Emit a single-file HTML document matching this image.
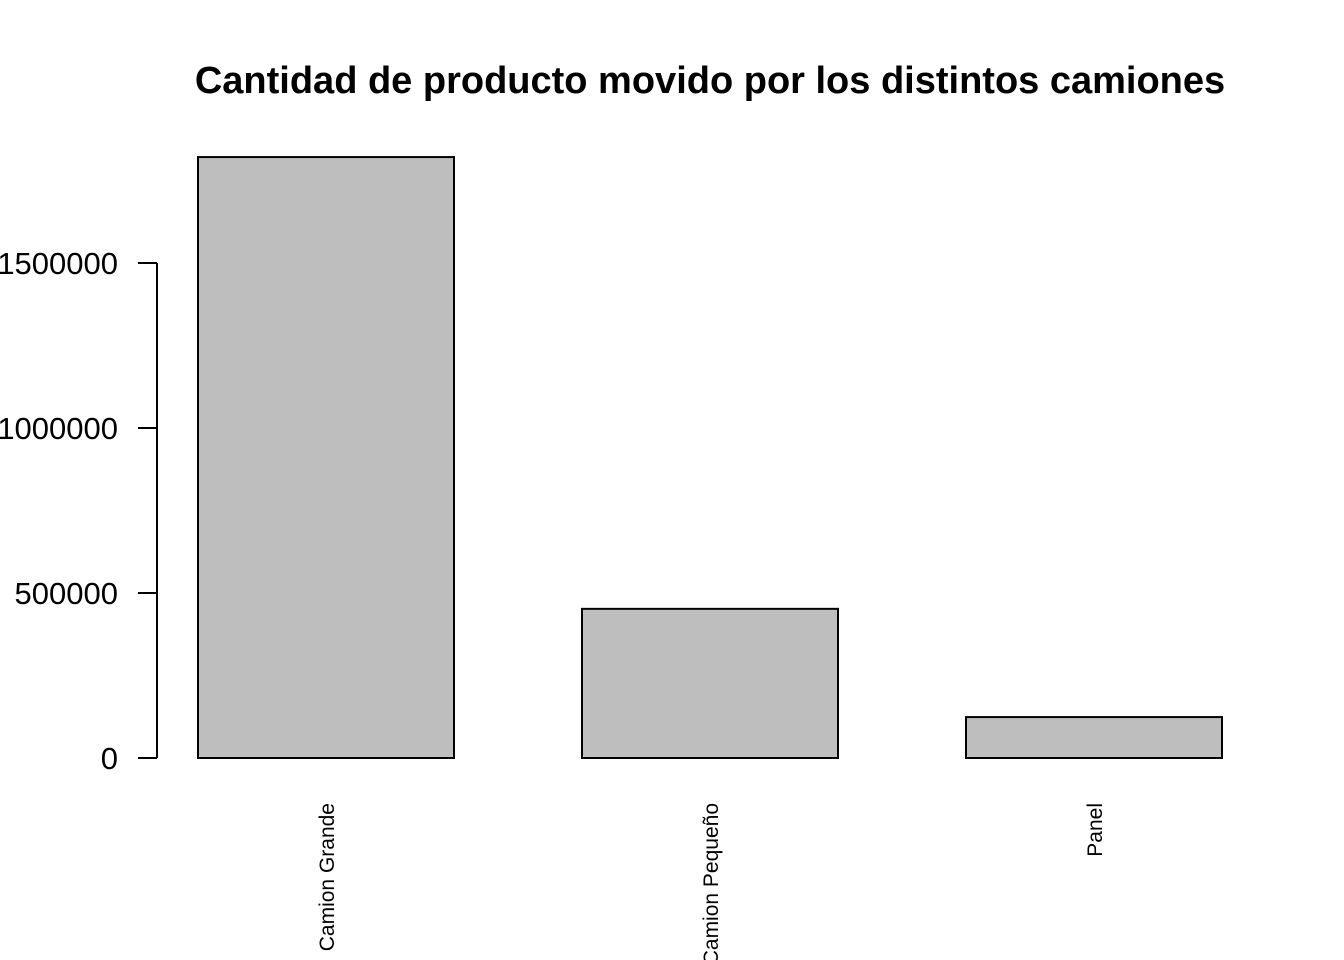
<!DOCTYPE html>
<html><head><meta charset="utf-8"><style>
body{margin:0;background:#fff}
svg{display:block;font-family:"Liberation Sans",Arial,sans-serif}
</style></head><body>
<svg id="chart" width="1344" height="960">
<text x="710" y="93" text-anchor="middle" font-size="38" font-weight="bold">Cantidad de producto movido por los distintos camiones</text>
<g id="bars"></g>
<g id="yaxis"></g>
<g id="xlabels"></g>
</svg>
<script>
const categories = ["Camion Grande", "Camion Pequeño", "Panel"];
const values = [1821000, 452000, 124000];
const yTicks = [0, 500000, 1000000, 1500000];
const yTickLabels = ["0", "500000", "1000000", "1500000"];

const NS = "http://www.w3.org/2000/svg";
const y0 = 758, pxPerUnit = 165 / 500000;
function yScale(v){ return y0 - v * pxPerUnit; }
function xLeft(i){ return 198 + i * 384; }
const barW = 256;
function mk(tag, attrs, parent){ const e = document.createElementNS(NS, tag); for (const k in attrs) e.setAttribute(k, attrs[k]); parent.appendChild(e); return e; }

const bars = document.getElementById('bars');
values.forEach((v, i) => {
  const r = mk('rect', {x: xLeft(i), y: yScale(v), width: barW, height: y0 - yScale(v), fill: '#bebebe', stroke: '#000', 'stroke-width': 2}, bars);
  
  
});

const ya = document.getElementById('yaxis');
const axisLine = mk('line', {x1: 157, x2: 157, y1: yScale(yTicks[yTicks.length - 1]), y2: yScale(yTicks[0]), stroke: '#000', 'stroke-width': 2}, ya);


yTicks.forEach((t, i) => {
  const y = yScale(t);
  const tk = mk('line', {x1: 138, x2: 157, y1: y, y2: y, stroke: '#000', 'stroke-width': 2}, ya);
  
  
  const tx = mk('text', {x: 118, y: y + 11, 'text-anchor': 'end', 'font-size': 31}, ya);
  tx.textContent = yTickLabels[i];
  
  
});

const xl = document.getElementById('xlabels');
categories.forEach((c, i) => {
  const cx = xLeft(i) + barW / 2 + 8;
  const t = mk('text', {x: cx, y: 803, 'text-anchor': 'end', 'font-size': 21, transform: `rotate(-90 ${cx} 803)`}, xl);
  t.textContent = c;
  
  
});
</script>
</body></html>
